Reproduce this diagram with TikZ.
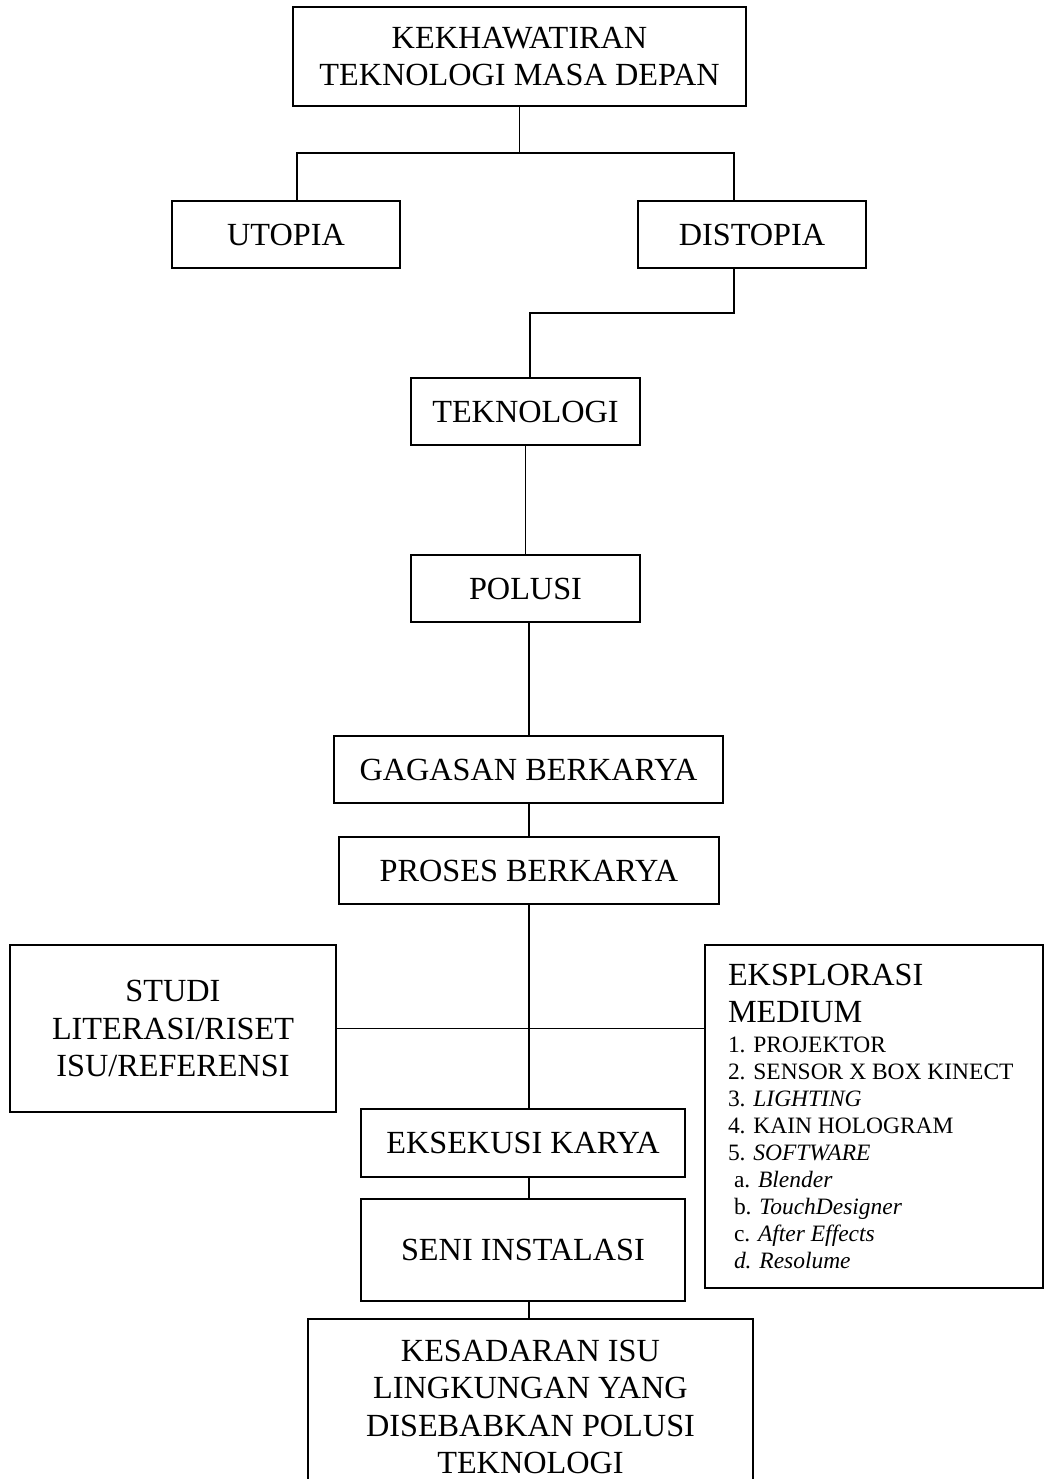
\documentclass[tikz,border=0pt]{standalone}
\usepackage{fontspec}
\setmainfont{Liberation Serif}
\setlength{\parindent}{0pt}
\begin{document}
\begin{tikzpicture}[x=0.75pt,y=-0.75pt,
  box/.style={draw, line width=1.6pt, inner sep=0pt, align=center,
    font=\fontsize{24.2}{28}\selectfont},
  link/.style={line width=0.8pt}]
\useasboundingbox (0,0) rectangle (1044,1479);
\clip (0,0) rectangle (1044,1479);

% boxes
\node[box, minimum width=339.75pt, minimum height=74.25pt] (top) at (519.5,56.5)
  {KEKHAWATIRAN\\TEKNOLOGI MASA DEPAN};
\node[box, minimum width=171pt, minimum height=50.25pt] (utopia) at (286,234.5) {UTOPIA};
\node[box, minimum width=171pt, minimum height=50.25pt] (distopia) at (752,234.5) {DISTOPIA};
\node[box, minimum width=171.75pt, minimum height=50.25pt] (teknologi) at (525.5,411.5) {TEKNOLOGI};
\node[box, minimum width=171.75pt, minimum height=50.25pt] (polusi) at (525.5,588.5) {POLUSI};
\node[box, minimum width=291.75pt, minimum height=50.25pt] (gagasan) at (528.5,769.5) {GAGASAN BERKARYA};
\node[box, minimum width=285pt, minimum height=50.25pt] (proses) at (529,870.5) {PROSES BERKARYA};
\node[box, minimum width=244.5pt, minimum height=125.25pt] (studi) at (173,1028.5)
  {STUDI\\LITERASI/RISET\\ISU/REFERENSI};
\node[box, align=flush left, text width=219pt, inner xsep=17.25pt, inner ysep=0pt,
  minimum height=257.25pt] (eksplorasi) at (874,1116.5)
  {{EKSPLORASI\\MEDIUM\par}\vspace{2.3pt}%
   {\fontsize{17.6}{20.2}\selectfont 1. PROJEKTOR\\2. SENSOR X BOX KINECT\\3. \textit{LIGHTING}\\4. KAIN HOLOGRAM\\5. \textit{SOFTWARE}\\\hspace*{4.5pt}a. \textit{Blender}\\\hspace*{4.5pt}b. \textit{TouchDesigner}\\\hspace*{4.5pt}c. \textit{After Effects}\\\hspace*{4.5pt}\textit{d. Resolume}\par}};
\node[box, minimum width=243pt, minimum height=51pt] (eksekusi) at (523,1143) {EKSEKUSI KARYA};
\node[box, minimum width=243pt, minimum height=76.5pt] (seni) at (523,1250) {SENI INSTALASI};
\node[box, minimum width=333.75pt, minimum height=132pt] (kesadaran) at (530.5,1407)
  {KESADARAN ISU\\LINGKUNGAN YANG\\DISEBABKAN POLUSI\\TEKNOLOGI};

% junction coordinates
\coordinate (j1) at (519.5,153);
\coordinate (jl) at (297,153);
\coordinate (jr) at (734,153);
\coordinate (d1) at (734,313);
\coordinate (d2) at (530,313);
\coordinate (cx) at (529,0);

% connectors
\draw[link] (top.south) -- (j1);
\draw[link] (utopia.north -| jl) -- (jl) -- (jr) -- (distopia.north -| jr);
\draw[link] (distopia.south -| d1) -- (d1) -- (d2) -- (teknologi.north -| d2);
\draw[link] (teknologi.south) -- (polusi.north);
\draw[link] (polusi.south -| cx) -- (gagasan.north -| cx);
\draw[link] (gagasan.south -| cx) -- (proses.north -| cx);
\draw[link] (proses.south -| cx) -- (eksekusi.north -| cx);
\draw[link] (studi.east) -- (eksplorasi.west |- studi.east);
\draw[link] (eksekusi.south -| cx) -- (seni.north -| cx);
\draw[link] (seni.south -| cx) -- (kesadaran.north -| cx);
\end{tikzpicture}
\end{document}
